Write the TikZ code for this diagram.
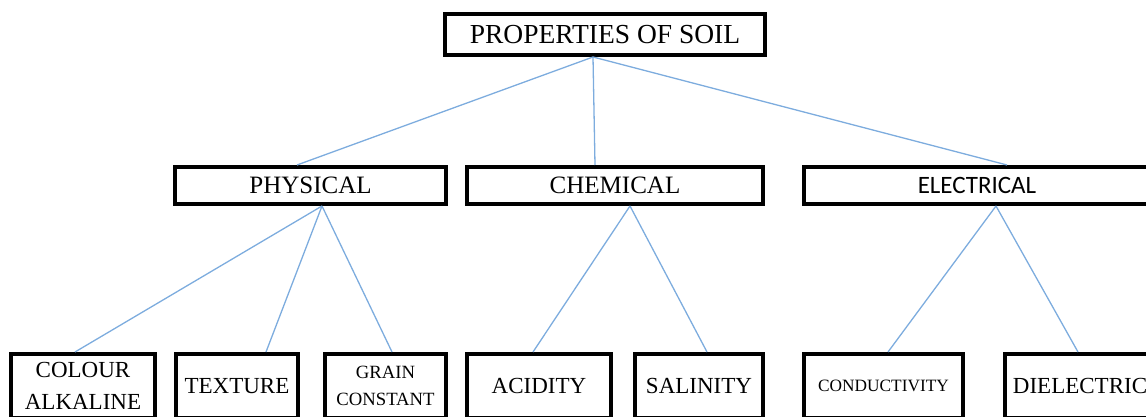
\documentclass[tikz,border=0pt]{standalone}
\usepackage{fontspec}
\setmainfont{Liberation Serif}
\newfontfamily\bodyfont{Carlito}
\usepackage{tikz}
\usetikzlibrary{positioning}
\definecolor{linkblue}{RGB}{125,172,222}

\begin{document}
\begin{tikzpicture}[x=1pt,y=-1pt,on grid,
    box/.style={draw,rectangle,line width=4pt,inner sep=0pt,align=center},
    top/.style={box,minimum width=320pt,minimum height=41pt,font=\fontsize{27.5}{30}\selectfont},
    mid/.style={box,minimum height=37pt,font=\fontsize{25}{28}\selectfont},
    leaf/.style={box,minimum height=64pt,font=\fontsize{23}{32}\selectfont},
    link/.style={draw=linkblue,line width=1.3pt}]
  \useasboundingbox (0,0) rectangle (1146,417);
  \node[top] (soil) at (605,34.5) {PROPERTIES OF SOIL};
  \node[mid,minimum width=271pt] (phys) [below left = 151pt and 294.5pt of soil] {PHYSICAL};
  \node[mid,minimum width=296pt] (chem) [below right = 151pt and 10pt of soil] {CHEMICAL};
  \node[mid,minimum width=346pt,font=\bodyfont\fontsize{25}{28}\selectfont] (elec) [below right = 151pt and 372pt of soil] {ELECTRICAL};
  \node[leaf,minimum width=144pt] (colour) [below left = 200.5pt and 227.5pt of phys] {COLOUR\\ALKALINE};
  \node[leaf,minimum width=122pt] (texture) [below left = 200.5pt and 73.5pt of phys] {TEXTURE};
  \node[leaf,minimum width=121pt,font=\fontsize{18.7}{27}\selectfont] (grain) [below right = 200.5pt and 75pt of phys] {GRAIN\\CONSTANT};
  \node[leaf,minimum width=144pt] (acid) [below left = 200.5pt and 76pt of chem] {ACIDITY};
  \node[leaf,minimum width=128pt] (salin) [below right = 200.5pt and 84pt of chem] {SALINITY};
  \node[leaf,minimum width=159pt,font=\fontsize{17.3}{20}\selectfont] (cond) [below left = 200.5pt and 93.5pt of elec] {CONDUCTIVITY};
  \node[leaf,minimum width=150pt] (diel) [below right = 200.5pt and 103pt of elec] {DIELECTRIC};
  \path[link]
  ([xshift=-12pt]soil.south)
  edge ([xshift=-13.5pt]phys.north)
  edge ([xshift=-20pt]chem.north)
  edge ([xshift=30pt]elec.north)
  ([xshift=11.5pt]phys.south)
  edge ([xshift=-8pt]colour.north)
  edge ([xshift=29pt]texture.north)
  edge ([xshift=6.5pt]grain.north)
  ([xshift=15pt]chem.south)
  edge ([xshift=-6pt]acid.north)
  edge ([xshift=8pt]salin.north)
  ([xshift=19pt]elec.south)
  edge ([xshift=4.5pt]cond.north)
  edge ([xshift=-2pt]diel.north)
  ;
\end{tikzpicture}
\end{document}
